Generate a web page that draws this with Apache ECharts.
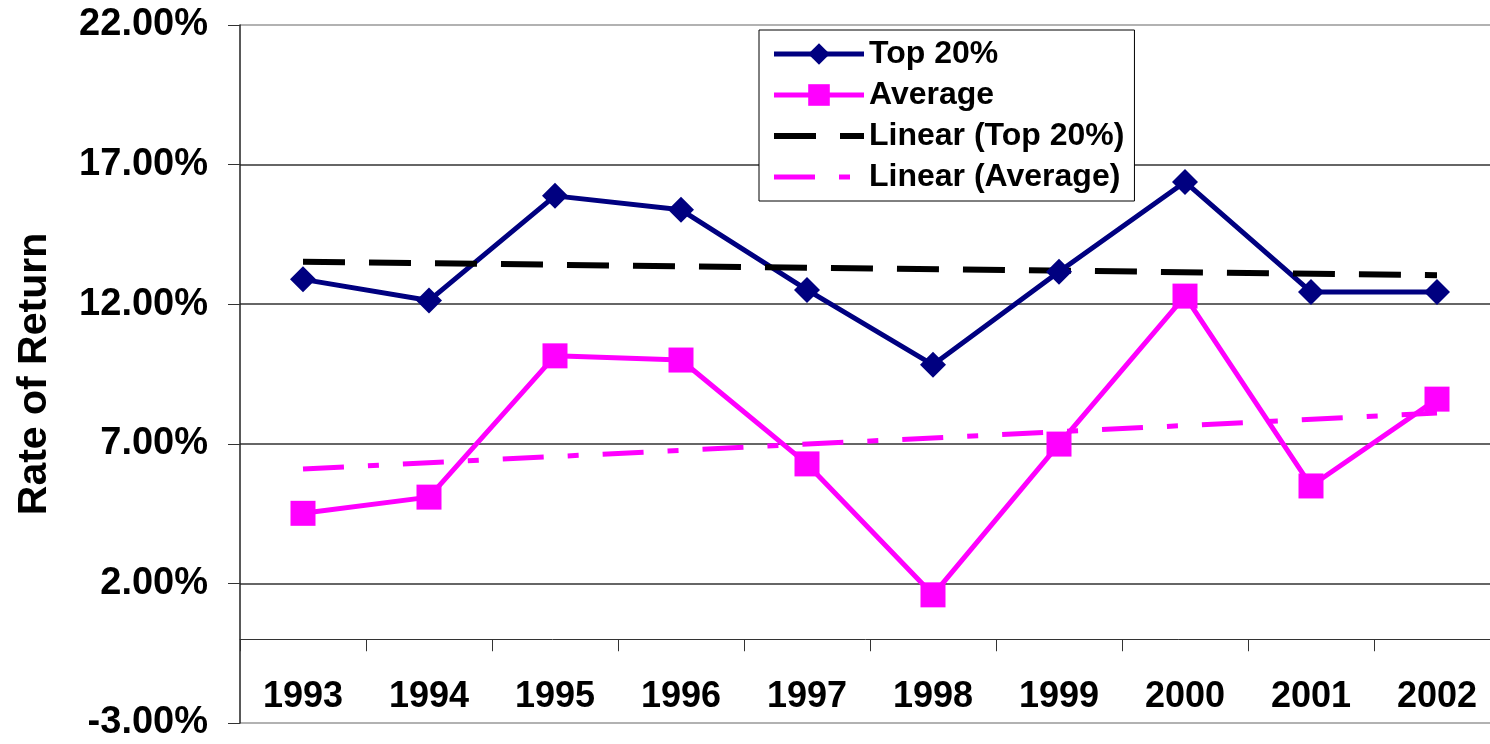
<!DOCTYPE html>
<html>
<head>
<meta charset="utf-8">
<title>Rate of Return</title>
<script src="https://cdn.jsdelivr.net/npm/echarts@6/dist/echarts.min.js"></script>
<style>
  html, body { margin: 0; padding: 0; background: #fff; }
  #returnChart { width: 1490px; height: 744px; }
</style>
</head>
<body>
<div id="returnChart"></div>
<script>
// data (percent)
const years = ["1993", "1994", "1995", "1996", "1997", "1998", "1999", "2000", "2001", "2002"];
const top20 = [12.89, 12.13, 15.88, 15.38, 12.51, 9.83, 13.16, 16.38, 12.44, 12.44];
const average = [4.51, 5.09, 10.15, 10.0, 6.28, 1.59, 6.99, 12.29, 5.49, 8.6];
// trend lines: only the two ends, joined straight
const trendTop20 = [13.52, null, null, null, null, null, null, null, null, 13.04];
const trendAverage = [6.1, null, null, null, null, null, null, null, null, 8.1];
const yTicks = { min: -3, max: 22, step: 5 };

const font = "'Liberation Sans', Arial, sans-serif";
const navy = "#000080";
const pink = "#FF00FF";
const dashTop = [42, 24];
const dashAvg = [41, 24, 11, 24];

const chart = echarts.init(document.getElementById("returnChart"));

chart.setOption({
  animation: false,
  textStyle: { fontFamily: font },
  grid: {
    left: 240,
    right: -10,
    top: 25,
    bottom: 21,
    containLabel: false,
    outerBoundsMode: "none"
  },
  legend: {
    orient: "vertical",
    left: 759,
    top: 30,
    padding: [8, 10, 8, 12],
    itemGap: 9,
    itemWidth: 90,
    itemHeight: 27,
    borderColor: "#000",
    borderWidth: 1,
    backgroundColor: "#fff",
    textStyle: {
      fontFamily: font,
      fontSize: 32,
      fontWeight: "bold",
      color: "#000",
      lineHeight: 31
    },
    data: [
      { name: "Top 20%", lineStyle: { color: navy, width: 5 } },
      { name: "Average", lineStyle: { color: pink, width: 5 } },
      {
        name: "Linear (Top 20%)",
        lineStyle: { color: "#000", width: 6, type: dashTop, cap: "butt" },
        itemStyle: { opacity: 0 }
      },
      {
        name: "Linear (Average)",
        lineStyle: { color: pink, width: 5, type: dashAvg, cap: "butt" },
        itemStyle: { opacity: 0 }
      }
    ]
  },
  xAxis: {
    type: "category",
    data: years,
    boundaryGap: true,
    axisLine: { onZero: true, lineStyle: { color: "#333", width: 1 } },
    axisTick: { show: true, interval: 0, length: 12, lineStyle: { color: "#333" } },
    axisLabel: {
      interval: 0,
      // labels hang under the zero line, inside the plot
      margin: -44,
      fontFamily: font,
      fontSize: 36,
      fontWeight: "bold",
      color: "#000"
    },
    splitLine: { show: false }
  },
  yAxis: {
    type: "value",
    min: yTicks.min,
    max: yTicks.max,
    interval: yTicks.step,
    name: "Rate of Return",
    nameLocation: "middle",
    nameRotate: 90,
    nameGap: 185,
    nameTextStyle: {
      fontFamily: font,
      fontSize: 41,
      fontWeight: "bold",
      color: "#000"
    },
    axisLine: { show: true, lineStyle: { color: "#222", width: 1.5 } },
    axisTick: { show: true, inside: false, length: 12, lineStyle: { color: "#333" } },
    axisLabel: {
      margin: 32,
      fontFamily: font,
      fontSize: 38,
      fontWeight: "bold",
      color: "#000",
      formatter: function (v) {
        return v.toFixed(2) + "%";
      }
    },
    splitLine: {
      show: true,
      lineStyle: {
        color: ["#999", "#333", "#333", "#333", "#333", "#999"],
        width: 1.5
      }
    }
  },
  series: [
    {
      name: "Top 20%",
      type: "line",
      data: top20,
      symbol: "diamond",
      symbolSize: 26,
      lineStyle: { color: navy, width: 5 },
      itemStyle: { color: navy }
    },
    {
      name: "Average",
      type: "line",
      data: average,
      symbol: "rect",
      symbolSize: 25,
      lineStyle: { color: pink, width: 5 },
      itemStyle: { color: pink }
    },
    {
      name: "Linear (Top 20%)",
      type: "line",
      data: trendTop20,
      connectNulls: true,
      symbol: "none",
      lineStyle: { color: "#000", width: 6, type: dashTop, cap: "butt" },
      itemStyle: { color: "#000" }
    },
    {
      name: "Linear (Average)",
      type: "line",
      data: trendAverage,
      connectNulls: true,
      symbol: "none",
      lineStyle: { color: pink, width: 5, type: dashAvg, cap: "butt" },
      itemStyle: { color: pink }
    }
  ]
});
</script>
</body>
</html>
